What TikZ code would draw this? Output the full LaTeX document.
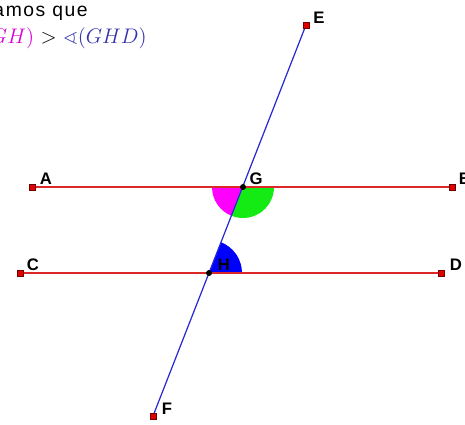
\documentclass[tikz,border=0pt]{standalone}
\usepackage{amssymb}
\usepackage{fontspec}
\setsansfont{Liberation Sans}
\definecolor{segred}{RGB}{220,40,40}
\definecolor{segblue}{RGB}{40,40,215}
\definecolor{ptred}{RGB}{225,0,0}
\definecolor{ptdark}{RGB}{110,0,0}
\definecolor{txtblue}{RGB}{50,50,170}
\definecolor{txtmag}{RGB}{215,0,215}
\definecolor{angmag}{RGB}{255,0,255}
\definecolor{anggreen}{RGB}{20,235,20}
\definecolor{angblue}{RGB}{0,0,255}
\tikzset{
  pt/.style={rectangle,fill=ptred,draw=ptdark,line width=.4pt,inner sep=0pt,minimum size=3.4pt},
  ptint/.style={circle,fill=black,inner sep=0pt,minimum size=3.4pt},
  lbl/.style={font=\sffamily\bfseries\fontsize{9.5}{10}\selectfont,inner sep=0pt}
}
\begin{document}
\begin{tikzpicture}[x=.02cm,y=-.02cm]
  \useasboundingbox (0,0) rectangle (465,424);
  \clip (0,0) rectangle (465,424);
  % points
  \coordinate (A) at (32,187);
  \coordinate (B) at (452,187);
  \coordinate (C) at (20,273);
  \coordinate (D) at (441,273);
  \coordinate (E) at (306,25);
  \coordinate (F) at (153,416);
  \coordinate (G) at (243,187);
  \coordinate (H) at (209,273);
  % angles
  \fill[angmag] (G) -- ++(111.5:31) arc(111.5:180:31) -- cycle;
  \fill[anggreen] (G) -- ++(0:31) arc(0:111.5:31) -- cycle;
  \fill[angblue] (H) -- ++(-68.4:33) arc(-68.4:0:33) -- cycle;
  % lines
  \draw[segred,line width=.7pt] (A)--(B);
  \draw[segred,line width=.7pt] (C)--(D);
  \draw[segblue,line width=.7pt] (E)--(F);
  \foreach \p in {A,B,C,D,E,F} \node[pt] at (\p) {};
  \node[ptint] at (G) {};
  \node[ptint] at (H) {};
  % labels
  \node[lbl] (lA) at (46,179) {A};
  \node[lbl] (lB) at (465,179) {B};
  \node[lbl] (lC) at (33,265) {C};
  \node[lbl] (lD) at (456,265) {D};
  \node[lbl] (lE) at (319,18) {E};
  \node[lbl] (lF) at (167,409) {F};
  \node[lbl] (lG) at (256,179) {G};
  \node[lbl] (lH) at (224,265) {H};
  % text
  \node[anchor=base east,inner sep=0pt,font=\addfontfeatures{LetterSpace=8}\sffamily\fontsize{11}{12}\selectfont] (obs) at (88,16) {\addfontfeatures{LetterSpace=8}Observamos que};
  \node[anchor=base east,inner sep=0pt,font=\fontsize{11.5}{12}\selectfont] (ineq) at (147,43)
    {\textcolor{txtmag}{$\sphericalangle(AGH)$} $>$ \textcolor{txtblue}{$\sphericalangle(GHD)$}};
\end{tikzpicture}
\end{document}
